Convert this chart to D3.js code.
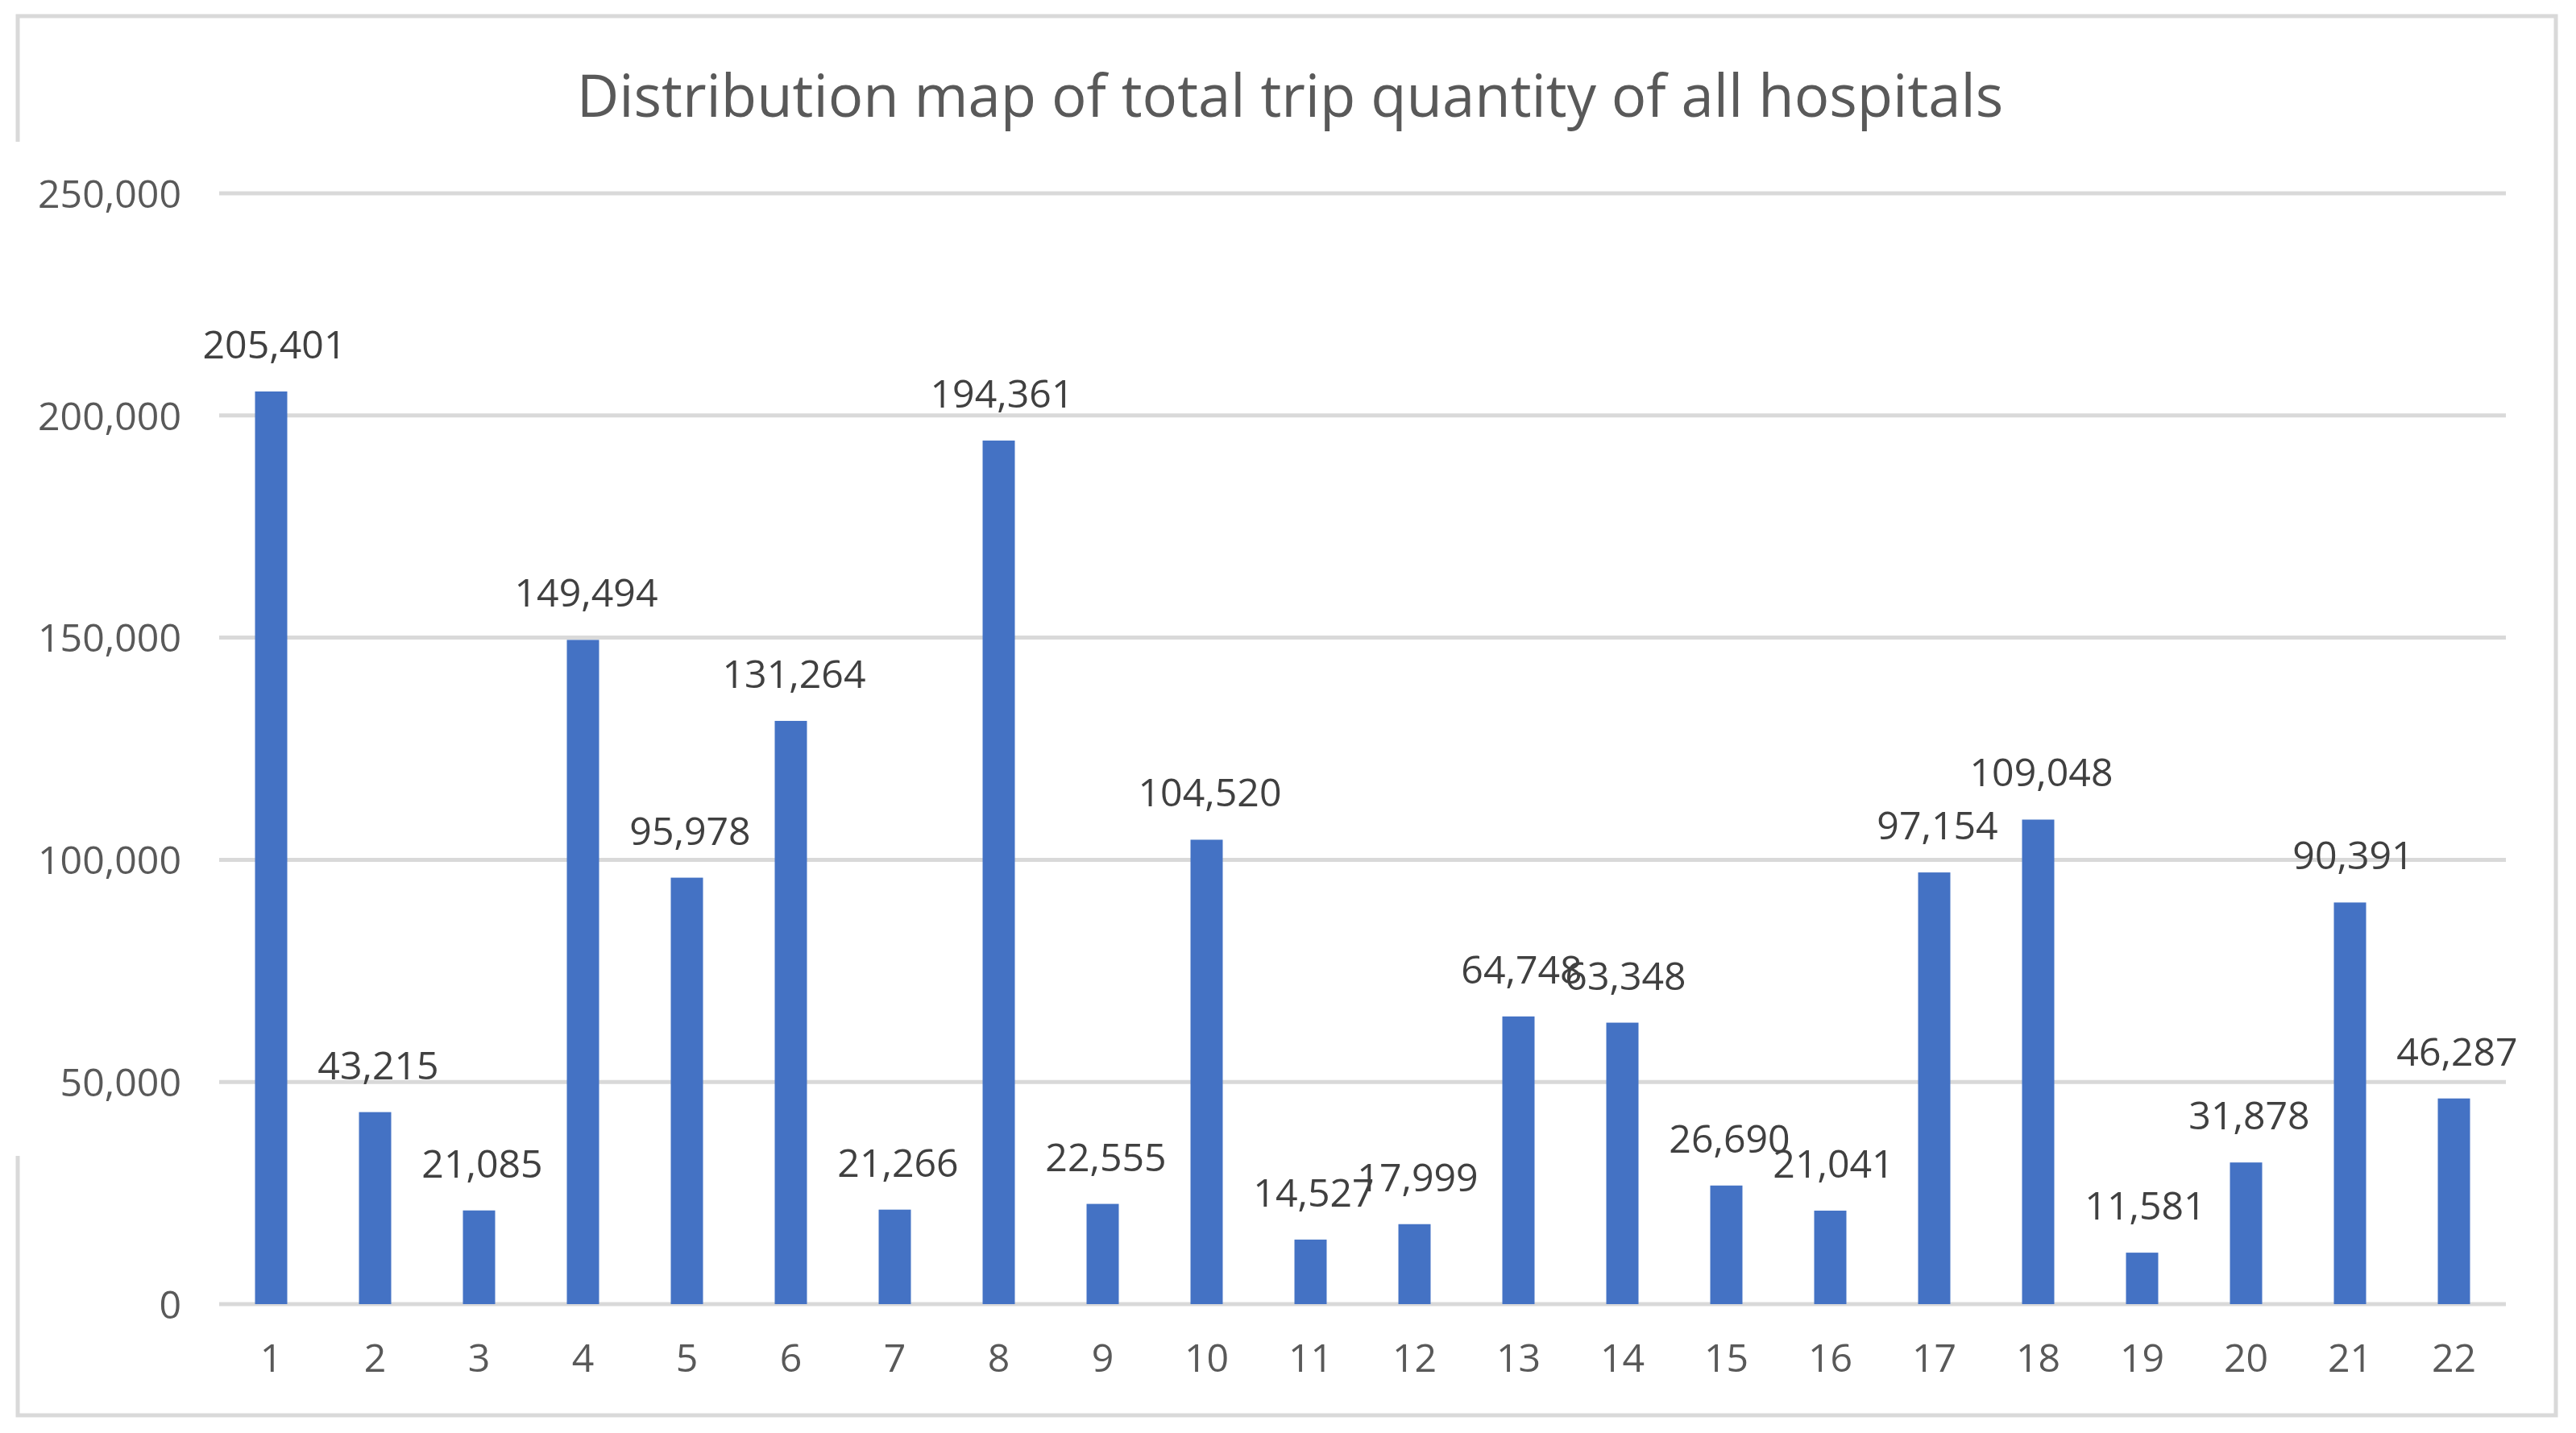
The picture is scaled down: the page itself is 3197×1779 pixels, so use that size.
<!DOCTYPE html>
<html>
<head>
<meta charset="utf-8">
<script src="https://cdn.jsdelivr.net/npm/d3@7"></script>
<style>
  html, body { margin: 0; padding: 0; background: #ffffff; }
  svg { display: block; }
</style>
</head>
<body>
<svg id="chart" width="3197" height="1779"></svg>
<script>
// ---- data ----
const titleText = "Distribution map of total trip quantity of all hospitals";
const categories = ["1","2","3","4","5","6","7","8","9","10","11","12","13","14","15","16","17","18","19","20","21","22"];
const values = [205401, 43215, 21085, 149494, 95978, 131264, 21266, 194361, 22555, 104520, 14527, 17999, 64748, 63348, 26690, 21041, 97154, 109048, 11581, 31878, 90391, 46287];
const yTicks = [0, 50000, 100000, 150000, 200000, 250000];

// ---- layout ----
const W = 3197, H = 1779;
const plot = { left: 272, right: 3110, top: 240, bottom: 1619 };
const fontFamily = "'Open Sans', 'Noto Sans', sans-serif";
const svg = d3.select("#chart");

svg.append("rect").attr("x", 0).attr("y", 0).attr("width", W).attr("height", H).attr("fill", "#ffffff");

// outer chart border (with a gap on the left side as in the reference)
const border = svg.append("g").attr("fill", "none").attr("stroke", "#d9d9d9").attr("stroke-width", 5);
border.append("path").attr("d", `M22,176 L22,20 L3172,20 L3172,1757 L22,1757 L22,1435`);

const x = d3.scaleBand().domain(categories).range([plot.left, plot.right]).paddingInner(0.69).paddingOuter(0.345);
const y = d3.scaleLinear().domain([0, 250000]).range([plot.bottom, plot.top]);
const fmt = d3.format(",");

// gridlines
svg.append("g").selectAll("line").data(yTicks).join("line")
  .attr("x1", plot.left).attr("x2", plot.right)
  .attr("y1", d => y(d)).attr("y2", d => y(d))
  .attr("stroke", "#d9d9d9").attr("stroke-width", 5);

// measure font size helper
function fitSize(text, targetWidth, weight) {
  const t = svg.append("text").attr("font-family", fontFamily).attr("font-size", 100)
    .attr("font-weight", weight || 400).text(text);
  const w = t.node().getComputedTextLength();
  t.remove();
  return 100 * targetWidth / w;
}
const labelSize = fitSize("205,401", 178);
const titleSize = fitSize(titleText, 1771);

// y axis labels
const yAxis = d3.axisLeft(y).tickValues(yTicks).tickFormat(fmt).tickSize(0).tickPadding(0);
const yg = svg.append("g").attr("transform", `translate(225,0)`).call(yAxis);
yg.select(".domain").remove();
yg.selectAll("text").attr("font-family", fontFamily).attr("font-size", labelSize)
  .attr("fill", "#595959").attr("dy", "0.36em");

// x axis labels
const xAxis = d3.axisBottom(x).tickSize(0).tickPadding(0);
const xg = svg.append("g").attr("transform", `translate(0,1703)`).call(xAxis);
xg.select(".domain").remove();
xg.selectAll("text").attr("font-family", fontFamily).attr("font-size", labelSize)
  .attr("fill", "#595959").attr("dy", 0);

// bars
svg.append("g").selectAll("rect").data(values).join("rect")
  .attr("x", (d, i) => x(categories[i]))
  .attr("width", x.bandwidth())
  .attr("y", d => y(d))
  .attr("height", d => y(0) - y(d))
  .attr("fill", "#4472c4");

// data labels
svg.append("g").selectAll("text").data(values).join("text")
  .attr("x", (d, i) => x(categories[i]) + x.bandwidth() / 2 + 4)
  .attr("y", d => y(d) - 41)
  .attr("text-anchor", "middle")
  .attr("font-family", fontFamily).attr("font-size", labelSize)
  .attr("fill", "#404040")
  .text(d => fmt(d));

// title
svg.append("text").attr("x", 1601).attr("y", 145).attr("text-anchor", "middle")
  .attr("font-family", fontFamily).attr("font-size", titleSize)
  .attr("fill", "#595959").text(titleText);
</script>
</body>
</html>
